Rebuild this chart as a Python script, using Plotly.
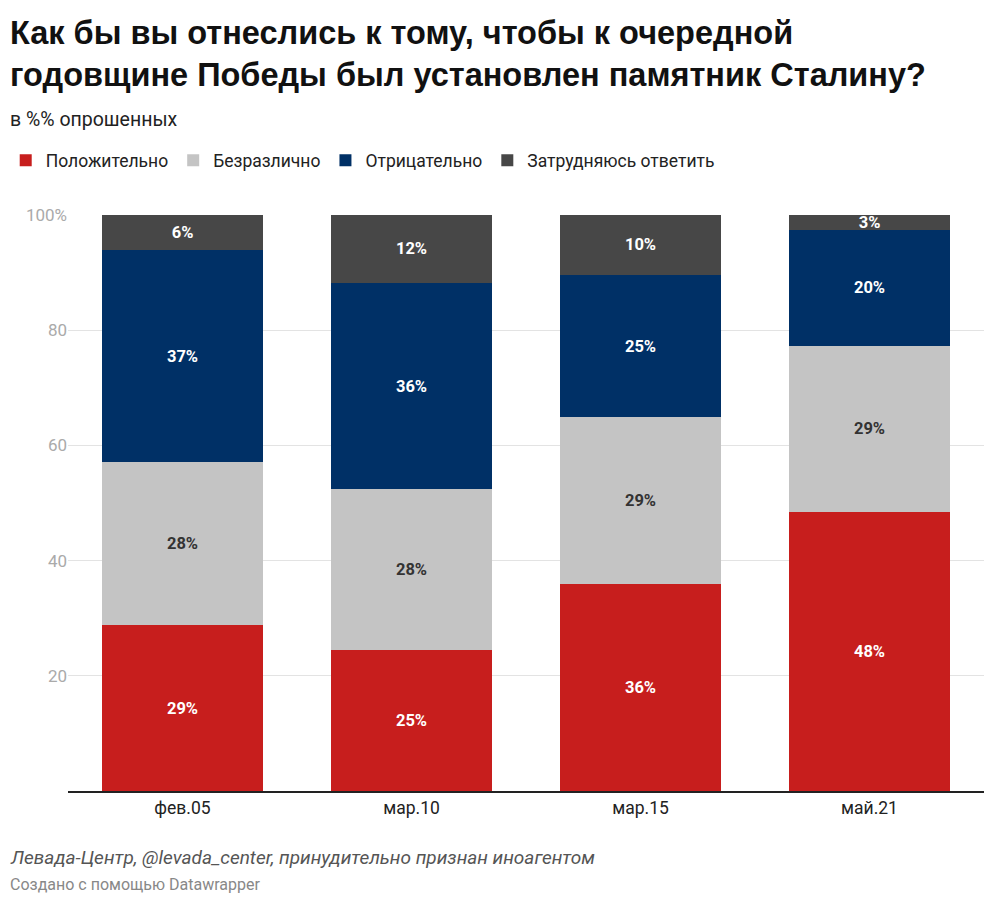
import plotly.graph_objects as go

categories = ["фев.05", "мар.10", "мар.15", "май.21"]
series_names = ["Положительно", "Безразлично", "Отрицательно", "Затрудняюсь ответить"]
positive = [28.8, 24.5, 35.9, 48.4]
indifferent = [28.3, 27.9, 29.0, 28.9]
negative = [36.8, 35.8, 24.7, 20.1]
hard = [6.1, 11.8, 10.4, 2.6]
label_pos = ["29%", "25%", "36%", "48%"]
label_ind = ["28%", "28%", "29%", "29%"]
label_neg = ["37%", "36%", "25%", "20%"]
label_hard = ["6%", "12%", "10%", "3%"]
colors = ["#c71e1d", "#c4c4c4", "#003066", "#474747"]
text_colors = ["white", "#333333", "white", "white"]
tick_vals = [20, 40, 60, 80, 100]
tick_text = ["20", "40", "60", "80", "100%"]

fig = go.Figure()
for name, vals, labels, c, tc in zip(series_names, [positive, indifferent, negative, hard],
                                     [label_pos, label_ind, label_neg, label_hard], colors, text_colors):
    fig.add_trace(go.Bar(x=categories, y=vals, name=name, marker_color=c, text=labels,
                         textposition="inside", insidetextanchor="middle",
                         marker_line_width=0,
                         textfont=dict(color=tc, size=16.5, family="Roboto"), textangle=0))

fig.update_traces(texttemplate="<b>%{text}</b>", constraintext="none")
fig.update_layout(
    barmode="stack", bargap=0.3, width=1000, height=913,
    paper_bgcolor="white", plot_bgcolor="white",
    font=dict(family="Roboto", color="#333333"),
    margin=dict(l=60, r=24, t=207, b=130, autoexpand=False),
    legend=dict(orientation="h", x=-0.068, xanchor="left", y=1.095, yanchor="middle",
                font=dict(size=17.5, color="#222222"), traceorder="normal", itemsizing="constant",
                itemwidth=30),
    uniformtext=dict(minsize=8, mode="show"),
)
fig.update_yaxes(range=[0, 100], tickvals=tick_vals, ticktext=tick_text, showgrid=True,
                 gridcolor="#e3e3e3", zeroline=False, tickfont=dict(size=17, color="#aaaaaa"),
                 ticks="", automargin=False)
fig.update_xaxes(showline=True, linecolor="#222222", linewidth=1.5, tickfont=dict(size=17.5, color="#222222"),
                 automargin=False)

fig.add_annotation(text="<b>Как бы вы отнеслись к тому, чтобы к очередной<br>годовщине Победы был установлен памятник Сталину?</b>",
                   xref="paper", yref="paper", x=-0.066, y=1.35, xanchor="left", yanchor="top",
                   align="left", showarrow=False,
                   font=dict(size=32.5, color="#111111", family="Liberation Sans"))
fig.add_annotation(text="в %% опрошенных", xref="paper", yref="paper", x=-0.066, y=1.165,
                   xanchor="left", yanchor="middle", showarrow=False, font=dict(size=19.5, color="#222222"))
fig.add_annotation(text="<i>Левада-Центр, @levada_center, принудительно признан иноагентом</i>",
                   xref="paper", yref="paper", x=-0.066, y=-0.116, xanchor="left", yanchor="middle",
                   showarrow=False, font=dict(size=19, color="#555555"))
fig.add_annotation(text="Создано с помощью Datawrapper", xref="paper", yref="paper", x=-0.066, y=-0.163,
                   xanchor="left", yanchor="middle", showarrow=False, font=dict(size=16, color="#888888"))

fig.write_html("out.html")
